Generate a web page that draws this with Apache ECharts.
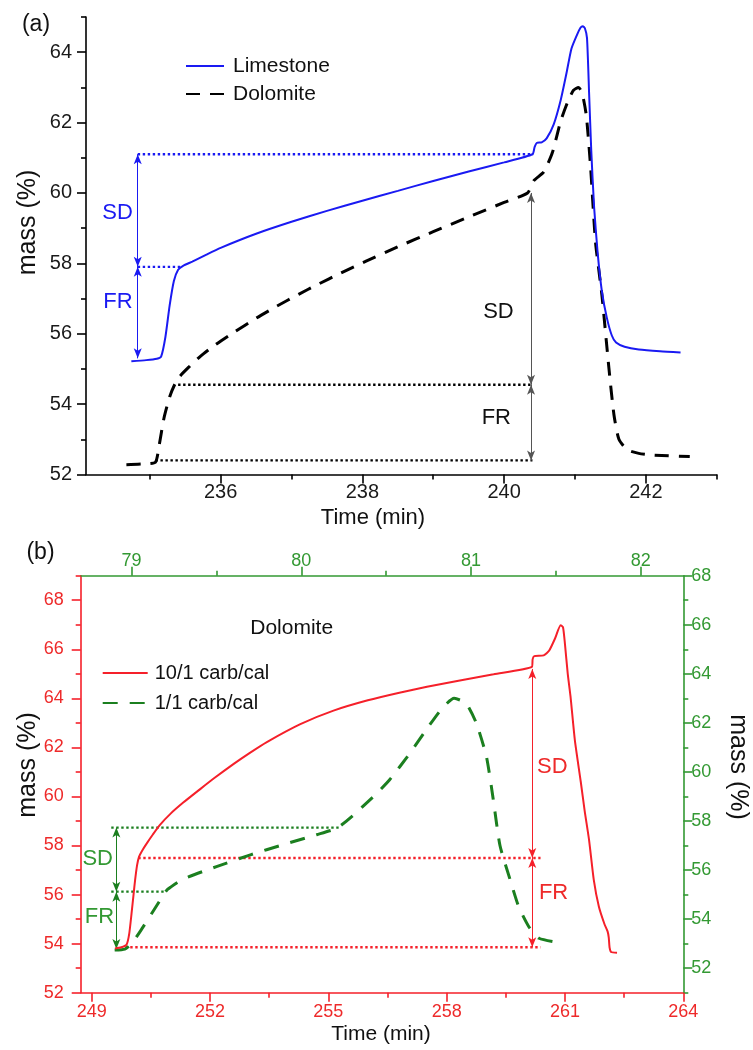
<!DOCTYPE html>
<html>
<head>
<meta charset="utf-8">
<title>Mass change during carbonation/calcination cycles</title>
<script src="https://cdn.jsdelivr.net/npm/echarts@6/dist/echarts.min.js"></script>
<style>
  html, body { margin: 0; padding: 0; background: #fff; }
  #chart { width: 753px; height: 1050px; }
</style>
</head>
<body>
<div id="chart"></div>
<script>
// ---- Panel (a): Time (min) vs mass (%) ----
const limestone = [
  [234.74,55.22],[234.95,55.25],[235.10,55.29],[235.16,55.35],[235.22,55.9],[235.28,56.8],
  [235.34,57.5],[235.40,57.82],[235.47,57.93],[235.60,58.05],[235.80,58.25],[236.00,58.44],
  [236.50,58.84],[237.00,59.18],[237.50,59.49],[238.00,59.78],[238.50,60.06],[239.00,60.34],
  [239.50,60.61],[240.00,60.87],[240.40,61.10],[240.43,61.30],[240.46,61.42],[240.53,61.44],
  [240.60,61.55],[240.70,61.95],[240.80,62.65],[240.88,63.4],[240.95,64.1],[241.03,64.5],
  [241.08,64.7],[241.11,64.74],[241.14,64.68],[241.17,64.4],[241.20,62.8],[241.23,61.2],
  [241.27,59.6],[241.32,58.3],[241.38,57.2],[241.45,56.45],[241.52,55.95],[241.58,55.75],
  [241.70,55.63],[241.90,55.55],[242.20,55.50],[242.49,55.47]
];
const dolomite = [
  [234.67,52.28],[234.90,52.30],[235.08,52.35],[235.13,52.8],[235.20,53.6],[235.28,54.2],
  [235.35,54.55],[235.42,54.78],[235.55,55.05],[235.71,55.35],[235.90,55.65],[236.18,56.03],
  [236.50,56.44],[236.79,56.78],[237.10,57.12],[237.36,57.39],[237.70,57.73],[238.06,58.07],
  [238.50,58.47],[239.00,58.90],[239.50,59.32],[240.00,59.73],[240.33,60.0],[240.42,60.35],
  [240.56,60.6],[240.68,61.14],[240.80,62.05],[240.90,62.6],[240.98,62.92],[241.05,63.0],
  [241.10,62.85],[241.16,62.2],[241.22,60.75],[241.29,58.6],[241.38,57.1],[241.48,55.0],
  [241.55,53.7],[241.62,53.0],[241.74,52.7],[241.90,52.6],[242.11,52.55],[242.62,52.51]
];
const aTimeTicks = [236, 238, 240, 242];
const aTimeMinor = [235, 237, 239, 241, 243];
const aMassTicks = [52, 54, 56, 58, 60, 62, 64];
const aMassMinor = [53, 55, 57, 59, 61, 63, 65];
// guides: [xStart, xEnd, y]; arrows: [x, yFrom, yTo]
const aLimeGuides = [[234.83, 240.41, 61.1], [234.83, 235.45, 57.9]];
const aLimeArrows = [[234.83, 61.1, 57.9], [234.83, 57.9, 55.3]];
const aDoloGuides = [[235.40, 240.40, 54.55], [235.08, 240.40, 52.4]];
const aDoloArrows = [[240.38, 60.0, 54.55], [240.38, 54.55, 52.4]];
const aLimeLabels = [['SD', 234.545, 59.44], ['FR', 234.55, 56.91]];
const aDoloLabels = [['SD', 239.92, 56.63], ['FR', 239.89, 53.6]];

// ---- Panel (b): Dolomite, 10/1 (bottom/left axes) and 1/1 carb/cal (top/right axes) ----
const carb10 = [
  [249.59,53.80],[249.75,53.85],[249.88,53.95],[249.95,54.4],[250.01,55.24],[250.06,56.0],
  [250.10,56.6],[250.15,57.2],[250.20,57.55],[250.30,57.85],[250.40,58.1],[250.55,58.45],
  [250.73,58.84],[251.00,59.3],[251.32,59.75],[251.75,60.30],[252.10,60.74],[252.60,61.33],
  [253.00,61.77],[253.44,62.22],[254.29,62.95],[255.13,63.50],[256.00,63.92],[256.80,64.23],
  [257.50,64.47],[258.30,64.72],[259.19,64.98],[260.16,65.28],[260.18,65.6],[260.22,65.72],
  [260.46,65.75],[260.60,65.95],[260.75,66.45],[260.89,66.98],[260.95,66.9],[261.00,66.2],
  [261.07,65.0],[261.14,64.08],[261.25,62.3],[261.40,60.6],[261.50,59.4],[261.61,58.23],
  [261.73,56.6],[261.86,55.5],[262.00,54.8],[262.08,54.5],[262.11,54.25],[262.13,53.85],
  [262.17,53.66],[262.32,53.63]
];
const carb1 = [
  [78.90,52.74],[78.96,52.78],[79.00,53.0],[79.06,53.6],[79.12,54.25],[79.18,54.9],
  [79.21,55.2],[79.30,55.62],[79.50,56.14],[79.70,56.62],[79.89,57.03],[80.09,57.44],
  [80.21,57.71],[80.30,58.2],[80.44,59.1],[80.52,59.68],[80.64,60.77],[80.75,61.86],
  [80.83,62.6],[80.90,63.0],[80.97,62.8],[81.03,62.0],[81.09,60.63],[81.13,58.9],
  [81.17,57.0],[81.23,55.6],[81.28,54.51],[81.34,53.69],[81.40,53.22],[81.54,53.02]
];
const bTimeTicks = [249, 252, 255, 258, 261, 264];
const bTimeMinor = [250.5, 253.5, 256.5, 259.5, 262.5];
const bTopTicks = [79, 80, 81, 82];
const bTopMinor = [79.5, 80.5, 81.5];
const bLeftTicks = [52, 54, 56, 58, 60, 62, 64, 66, 68];
const bLeftMinor = [53, 55, 57, 59, 61, 63, 65, 67, 69];
const bRightTicks = [52, 54, 56, 58, 60, 62, 64, 66, 68];
const bRightMinor = [51, 53, 55, 57, 59, 61, 63, 65, 67];
const bRedGuides = [[250.18, 260.38, 57.49], [249.85, 260.38, 53.85]];
const bRedArrows = [[260.17, 65.2, 57.49], [260.17, 57.49, 53.85]];
const bGreenGuides = [[78.88, 80.22, 57.73], [78.88, 79.19, 55.12]];
const bGreenArrows = [[78.91, 57.73, 55.12], [78.91, 55.12, 52.78]];
const bRedLabels = [['SD', 260.68, 61.21], ['FR', 260.71, 56.06]];
const bGreenLabels = [['SD', 78.80, 56.46], ['FR', 78.81, 54.1]];

// ---- styling ----
const FONT = '"Liberation Sans", Arial, Helvetica, sans-serif';
const BLUE = '#1a1af2';
const RED = '#f5202a';
const RED_TXT = '#ee2a2a';
const GREEN = '#339933';
const GREEN_LINE = '#1b7f1f';
const BLACK = '#000000';

function axis(o) {
  const color = o.color || '#000';
  return {
    type: 'value', gridIndex: o.grid, position: o.position,
    min: o.min, max: o.max, scale: true,
    axisLine: { show: !o.minor, onZero: false, lineStyle: { color: color, width: 1.6 } },
    axisTick: { show: true, inside: false, customValues: o.ticks, length: o.minor ? 5 : 9,
                lineStyle: { color: color, width: 1.6 } },
    axisLabel: o.minor ? { show: false } : {
      show: true, customValues: o.ticks, margin: o.margin,
      fontSize: o.fontSize, fontFamily: FONT, color: o.labelColor || '#1a1a1a'
    },
    splitLine: { show: false }
  };
}

function arrowEnd(x, y) {
  return { coord: [x, y], symbol: 'arrow', symbolSize: [6, 10] };
}

function guideSeries(name, guides, xi, yi, color, arrows) {
  const data = [];
  guides.forEach((g, i) => {
    if (i > 0) data.push(['-', '-']);
    data.push([g[0], g[2]], [g[1], g[2]]);
  });
  return {
    name: name, type: 'line', xAxisIndex: xi, yAxisIndex: yi, data: data,
    symbol: 'none', connectNulls: false, silent: true, z: 3,
    lineStyle: { color: color, width: 2.4, type: [2.4, 2.6] },
    markLine: {
      silent: true, symbol: ['arrow', 'arrow'], symbolSize: 8, animation: false,
      label: { show: false },
      lineStyle: { color: color === BLACK ? '#555' : color, width: 1, type: 'solid' },
      itemStyle: { color: color === BLACK ? '#333' : color },
      emphasis: { disabled: true },
      data: arrows.map(a => [arrowEnd(a[0], a[1]), arrowEnd(a[0], a[2])])
    }
  };
}

const chart = echarts.init(document.getElementById('chart'), null, { renderer: 'canvas' });

const legendBase = {
  orient: 'vertical', padding: 0, itemHeight: 14, selectedMode: false,
  itemStyle: { opacity: 0 }
};

const option = {
  animation: false,
  backgroundColor: '#ffffff',
  textStyle: { fontFamily: FONT },
  grid: [
    { left: 86, top: 17, width: 630.7, height: 457.5 },
    { left: 80.7, top: 575.7, width: 602.6, height: 417 }
  ],
  xAxis: [
    axis({ grid: 0, position: 'bottom', min: 234.1, max: 243, ticks: aTimeTicks, margin: 8, fontSize: 20 }),
    axis({ grid: 0, position: 'bottom', min: 234.1, max: 243, ticks: aTimeMinor, minor: true }),
    axis({ grid: 1, position: 'bottom', min: 248.72, max: 264, ticks: bTimeTicks, margin: 10, fontSize: 18,
           color: RED, labelColor: RED_TXT }),
    axis({ grid: 1, position: 'bottom', min: 248.72, max: 264, ticks: bTimeMinor, minor: true, color: RED }),
    axis({ grid: 1, position: 'top', min: 78.7, max: 82.25, ticks: bTopTicks, margin: 6, fontSize: 18,
           color: GREEN, labelColor: GREEN }),
    axis({ grid: 1, position: 'top', min: 78.7, max: 82.25, ticks: bTopMinor, minor: true, color: GREEN })
  ],
  yAxis: [
    axis({ grid: 0, position: 'left', min: 52, max: 65, ticks: aMassTicks, margin: 14, fontSize: 20 }),
    axis({ grid: 0, position: 'left', min: 52, max: 65, ticks: aMassMinor, minor: true }),
    axis({ grid: 1, position: 'left', min: 52, max: 69, ticks: bLeftTicks, margin: 17, fontSize: 18,
           color: RED, labelColor: RED_TXT }),
    axis({ grid: 1, position: 'left', min: 52, max: 69, ticks: bLeftMinor, minor: true, color: RED }),
    axis({ grid: 1, position: 'right', min: 51, max: 68, ticks: bRightTicks, margin: 8, fontSize: 18,
           color: GREEN, labelColor: GREEN }),
    axis({ grid: 1, position: 'right', min: 51, max: 68, ticks: bRightMinor, minor: true, color: GREEN })
  ],
  legend: [
    Object.assign({}, legendBase, {
      left: 185, top: 54, itemGap: 4, itemWidth: 38,
      data: ['Limestone', 'Dolomite'],
      textStyle: { fontSize: 21, fontFamily: FONT, color: '#111', lineHeight: 24, padding: [0, 0, 0, 4] }
    }),
    Object.assign({}, legendBase, {
      left: 101.7, top: 661, itemGap: 6, itemWidth: 45,
      data: ['10/1 carb/cal', '1/1 carb/cal'],
      textStyle: { fontSize: 20, fontFamily: FONT, color: '#111', lineHeight: 24, padding: [0, 0, 0, 2] }
    })
  ],
  series: [
    guideSeries('guides-lime', aLimeGuides, 0, 0, BLUE, aLimeArrows),
    guideSeries('guides-dolo', aDoloGuides, 0, 0, BLACK, aDoloArrows),
    {
      name: 'Limestone', type: 'line', xAxisIndex: 0, yAxisIndex: 0, data: limestone,
      symbol: 'none', smooth: 0.2, z: 5,
      lineStyle: { color: BLUE, width: 2 }, itemStyle: { color: BLUE }
    },
    {
      name: 'Dolomite', type: 'line', xAxisIndex: 0, yAxisIndex: 0, data: dolomite,
      symbol: 'none', smooth: 0.2, z: 4,
      lineStyle: { color: BLACK, width: 3, type: [14, 10] }, itemStyle: { color: BLACK }
    },
    guideSeries('guides-red', bRedGuides, 2, 2, RED, bRedArrows),
    guideSeries('guides-green', bGreenGuides, 4, 4, GREEN_LINE, bGreenArrows),
    {
      name: '10/1 carb/cal', type: 'line', xAxisIndex: 2, yAxisIndex: 2, data: carb10,
      symbol: 'none', smooth: 0.2, z: 5,
      lineStyle: { color: RED, width: 2 }, itemStyle: { color: RED }
    },
    {
      name: '1/1 carb/cal', type: 'line', xAxisIndex: 4, yAxisIndex: 4, data: carb1,
      symbol: 'none', smooth: 0.2, z: 4,
      lineStyle: { color: GREEN_LINE, width: 3, type: [15, 12] }, itemStyle: { color: GREEN_LINE }
    }
  ]
};

chart.setOption(option);

// Text placed at data coordinates, plus panel tags and axis titles
function txt(text, x, y, size, color, rotation) {
  return {
    type: 'text', x: x, y: y, rotation: rotation || 0, silent: true, z: 100,
    style: { text: text, fill: color, fontSize: size, fontFamily: FONT,
             align: 'center', verticalAlign: 'middle' }
  };
}
function dataTexts(labels, xi, yi, color) {
  return labels.map(l => {
    const p = chart.convertToPixel({ xAxisIndex: xi, yAxisIndex: yi }, [l[1], l[2]]);
    return txt(l[0], p[0], p[1], 22, color);
  });
}

const graphics = [
  txt('(a)', 36, 25, 23, '#111'),
  txt('(b)', 40.5, 553, 23, '#111'),
  txt('mass (%)', 28, 222.5, 25, '#111', Math.PI / 2),
  txt('Time (min)', 373, 518, 22, '#111'),
  txt('mass (%)', 28, 765, 25, '#111', Math.PI / 2),
  txt('mass (%)', 738, 767, 25, '#111', -Math.PI / 2),
  txt('Time (min)', 381, 1034, 21, '#111'),
  txt('Dolomite', 291.7, 628.3, 21, '#111')
].concat(
  dataTexts(aLimeLabels, 0, 0, BLUE),
  dataTexts(aDoloLabels, 0, 0, '#111'),
  dataTexts(bRedLabels, 2, 2, RED_TXT),
  dataTexts(bGreenLabels, 4, 4, GREEN)
);

chart.setOption({ graphic: graphics });
</script>
</body>
</html>
